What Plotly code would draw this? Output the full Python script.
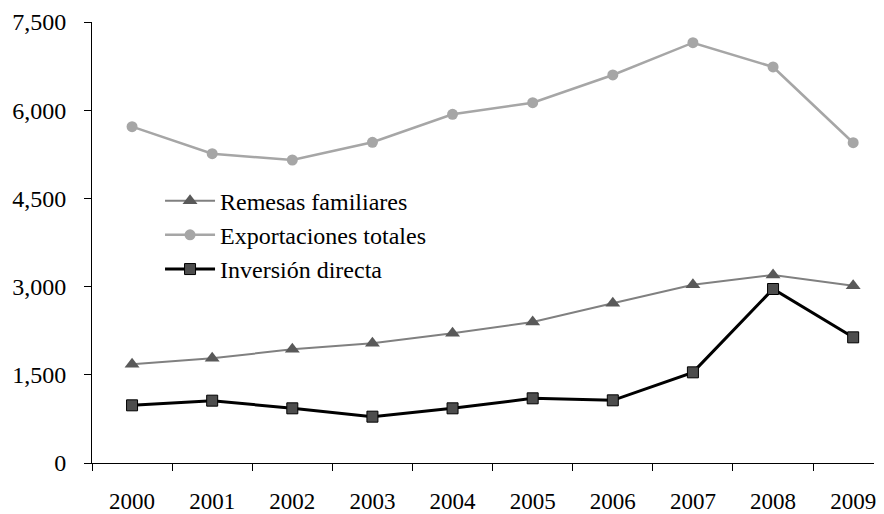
import plotly.graph_objects as go

# Data
years = ["2000", "2001", "2002", "2003", "2004", "2005", "2006", "2007", "2008", "2009"]
remesas = [1678, 1780, 1934, 2036, 2206, 2398, 2716, 3032, 3197, 3016]
exportaciones = [5720, 5260, 5153, 5454, 5930, 6128, 6599, 7148, 6735, 5447]
inversion = [981, 1060, 930, 788, 930, 1100, 1066, 1542, 2959, 2137]
y_ticks = [0, 1500, 3000, 4500, 6000, 7500]

font_family = "Liberation Serif"

fig = go.Figure()

fig.add_trace(go.Scatter(
    x=years, y=remesas, name="Remesas familiares", mode="lines+markers",
    line=dict(color="#808080", width=2),
    marker=dict(symbol="triangle-up", size=13, color="#595959"),
    cliponaxis=False))

fig.add_trace(go.Scatter(
    x=years, y=exportaciones, name="Exportaciones totales", mode="lines+markers",
    line=dict(color="#a6a6a6", width=2.5),
    marker=dict(symbol="circle", size=11, color="#a6a6a6"),
    cliponaxis=False))

fig.add_trace(go.Scatter(
    x=years, y=inversion, name="Inversión directa", mode="lines+markers",
    line=dict(color="#000000", width=3),
    marker=dict(symbol="square", size=11, color="#4d4d4d",
                line=dict(color="#000000", width=1)),
    cliponaxis=False))

# the page body has 8px margins, so the figure is sized to fit inside it
fig.update_layout(
    width=868, height=506,
    margin=dict(l=84, r=0, t=14, b=51),
    plot_bgcolor="white", paper_bgcolor="white",
    font=dict(family=font_family, size=24, color="#000000"),
    showlegend=True,
    legend=dict(x=0.087, y=0.645, xanchor="left", yanchor="top",
                bgcolor="rgba(0,0,0,0)", itemwidth=50, tracegroupgap=0,
                font=dict(family=font_family, size=24)),
)

fig.update_xaxes(
    type="category", range=[-0.5, 9.26],
    showline=True, linecolor="#000000", linewidth=1,
    ticks="outside", tickson="boundaries", ticklen=7, tickcolor="#000000",
    showgrid=False, zeroline=False,
    tickfont=dict(family=font_family, size=23),
    ticklabelstandoff=17)

fig.update_yaxes(
    range=[0, 7500], tickvals=y_ticks, tickformat=",",
    showline=True, linecolor="#000000", linewidth=1,
    ticks="outside", ticklen=7, tickcolor="#000000",
    showgrid=False, zeroline=False,
    tickfont=dict(family=font_family, size=24),
    ticklabelstandoff=13)

fig.write_html("out.html")
